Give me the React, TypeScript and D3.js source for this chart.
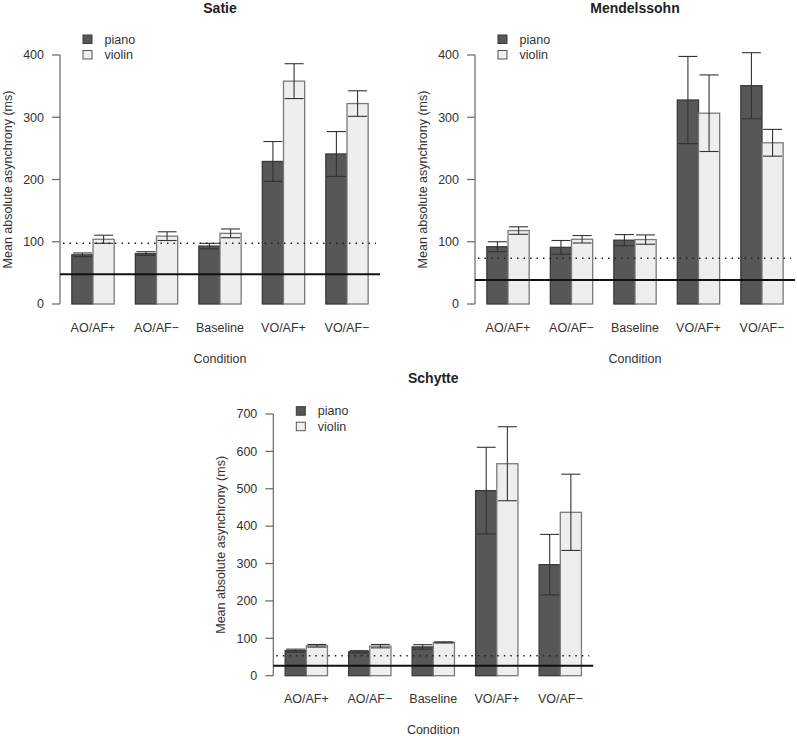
import React from "react";
import * as d3 from "d3";

const conditions = ["AO/AF+", "AO/AF\u2212", "Baseline", "VO/AF+", "VO/AF\u2212"];
const series = ["piano", "violin"];

const satiePiano = [79, 81, 93, 229, 241];
const satiePianoSE = [3, 3, 4.5, 32, 36];
const satieViolin = [104, 109, 113.5, 358, 322];
const satieViolinSE = [6.5, 7, 7, 28, 20.5];
const satieRefLines = [47.7, 97.5];
const satieTicks = [0, 100, 200, 300, 400];

const mendPiano = [92, 91, 102.5, 327.7, 350.7];
const mendPianoSE = [8, 11, 9, 70, 53];
const mendViolin = [118, 104, 103.5, 306.5, 259];
const mendViolinSE = [6, 6, 7.5, 61.5, 21.5];
const mendRefLines = [38.6, 73.4];
const mendTicks = [0, 100, 200, 300, 400];

const schPiano = [67, 64, 77, 495, 297];
const schPianoSE = [4, 3, 6, 116, 81];
const schViolin = [80, 79, 89, 567, 437];
const schViolinSE = [3.5, 4.5, 1.5, 99, 102];
const schRefLines = [26.8, 53.5];
const schTicks = [0, 100, 200, 300, 400, 500, 600, 700];

const FONT = "'Liberation Sans', Arial, Helvetica, sans-serif";
const TXT = "#333333";
const PIANO_FILL = "#575757";
const PIANO_STROKE = "#3a3a3a";
const VIOLIN_FILL = "#eeeeee";
const VIOLIN_STROKE = "#7a7a7a";
const ERR = "#333333";
const FS = 12.5;

type PanelProps = {
  title: string;
  piano: number[];
  pianoSE: number[];
  violin: number[];
  violinSE: number[];
  refs: number[];
  ticks: number[];
  x0: number;
  yZero: number;
  yTop: number;
  titleY: number;
  legendTop: number;
};

function Panel(p: PanelProps) {
  const width = 320;
  const x = d3.scaleLinear().domain([0.44, 15.56]).range([p.x0, p.x0 + width]);
  const maxTick = p.ticks[p.ticks.length - 1];
  const y = d3.scaleLinear().domain([0, maxTick]).range([p.yZero, p.yTop]);
  const cx = p.x0 + width / 2;
  const vals = [p.piano, p.violin];
  const ses = [p.pianoSE, p.violinSE];
  const fills = [PIANO_FILL, VIOLIN_FILL];
  const strokes = [PIANO_STROKE, VIOLIN_STROKE];
  const capHalf = 9.5;
  const labelCx = p.x0 - 53;
  const labelCy = (y(-0.04 * maxTick) + y(1.04 * maxTick)) / 2;

  return (
    <g fontFamily={FONT}>
      <text x={cx} y={p.titleY} textAnchor="middle" fontWeight="bold" fontSize={14} fill="#222">
        {p.title}
      </text>
      {/* y axis */}
      <line x1={p.x0} x2={p.x0} y1={y(0)} y2={y(maxTick)} stroke="#666" strokeWidth={1.2} />
      {p.ticks.map((t) => (
        <g key={t}>
          <line x1={p.x0 - 8} x2={p.x0} y1={y(t)} y2={y(t)} stroke="#666" strokeWidth={1.2} />
          <text x={p.x0 - 16} y={y(t) + 4.3} textAnchor="end" fontSize={FS} fill={TXT}>
            {t}
          </text>
        </g>
      ))}
      <text
        transform={`translate(${labelCx + 4.5},${labelCy}) rotate(-90)`}
        textAnchor="middle"
        fontSize={FS}
        fill={TXT}
      >
        Mean absolute asynchrony (ms)
      </text>
      {/* bars */}
      {conditions.map((c, i) =>
        series.map((s, j) => {
          const left = 1 + 3 * i + j;
          const v = vals[j][i];
          return (
            <rect
              key={c + s}
              x={x(left)}
              y={y(v)}
              width={x(left + 1) - x(left)}
              height={y(0) - y(v)}
              fill={fills[j]}
              stroke={strokes[j]}
              strokeWidth={1.3}
            />
          );
        })
      )}
      {/* error bars */}
      {conditions.map((c, i) =>
        series.map((s, j) => {
          const mid = x(1.5 + 3 * i + j);
          const v = vals[j][i];
          const e = ses[j][i];
          return (
            <g key={"e" + c + s} stroke={ERR} strokeWidth={1.1}>
              <line x1={mid} x2={mid} y1={y(v - e)} y2={y(v + e)} />
              <line x1={mid - capHalf} x2={mid + capHalf} y1={y(v + e)} y2={y(v + e)} />
              <line x1={mid - capHalf} x2={mid + capHalf} y1={y(v - e)} y2={y(v - e)} />
            </g>
          );
        })
      )}
      {/* reference lines */}
      <line x1={p.x0} x2={p.x0 + width} y1={y(p.refs[0])} y2={y(p.refs[0])} stroke="#111" strokeWidth={2} />
      <line
        x1={p.x0 + 3}
        x2={p.x0 + width - 4}
        y1={y(p.refs[1])}
        y2={y(p.refs[1])}
        stroke="#222"
        strokeWidth={1.6}
        strokeDasharray="1.5 5"
      />
      {/* x labels */}
      {conditions.map((c, i) => (
        <text key={"l" + c} x={x(2 + 3 * i)} y={p.yZero + 27.5} textAnchor="middle" fontSize={FS} fill={TXT}>
          {c}
        </text>
      ))}
      <text x={cx} y={p.yZero + 58.5} textAnchor="middle" fontSize={FS} fill={TXT}>
        Condition
      </text>
      {/* legend */}
      {series.map((s, j) => (
        <g key={"lg" + s}>
          <rect
            x={p.x0 + 23}
            y={p.legendTop + j * 15.5}
            width={9}
            height={8.5}
            fill={fills[j]}
            stroke={j === 0 ? PIANO_STROKE : "#555"}
            strokeWidth={1}
          />
          <text x={p.x0 + 44.5} y={p.legendTop + j * 15.5 + 8.5} fontSize={FS} fill={TXT}>
            {s}
          </text>
        </g>
      ))}
    </g>
  );
}

export default function App() {
  return (
    <svg
      width={797}
      height={736}
      style={{ position: "absolute", left: 0, top: 0, background: "#fff" }}
    >
      <rect width={797} height={736} fill="#fff" />
      <Panel
        title="Satie"
        piano={satiePiano}
        pianoSE={satiePianoSE}
        violin={satieViolin}
        violinSE={satieViolinSE}
        refs={satieRefLines}
        ticks={satieTicks}
        x0={60}
        yZero={304}
        yTop={55}
        titleY={13}
        legendTop={35}
      />
      <Panel
        title="Mendelssohn"
        piano={mendPiano}
        pianoSE={mendPianoSE}
        violin={mendViolin}
        violinSE={mendViolinSE}
        refs={mendRefLines}
        ticks={mendTicks}
        x0={475}
        yZero={304}
        yTop={55}
        titleY={13}
        legendTop={35}
      />
      <Panel
        title="Schytte"
        piano={schPiano}
        pianoSE={schPianoSE}
        violin={schViolin}
        violinSE={schViolinSE}
        refs={schRefLines}
        ticks={schTicks}
        x0={273.3}
        yZero={675.7}
        yTop={414}
        titleY={382.5}
        legendTop={406.7}
      />
    </svg>
  );
}
